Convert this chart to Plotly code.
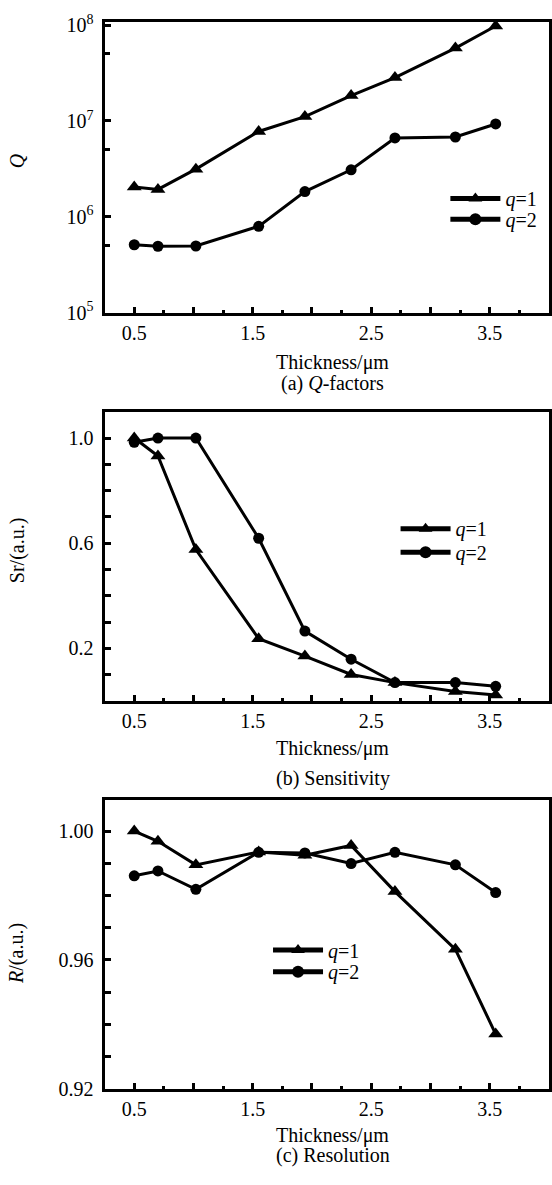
import plotly.graph_objects as go

# ---------------- data ----------------
thickness = [0.5, 0.7, 1.02, 1.55, 1.94, 2.33, 2.7, 3.21, 3.55]

q_factor_q1 = [2.04e6, 1.93e6, 3.14e6, 7.76e6, 1.11e7, 1.84e7, 2.84e7, 5.76e7, 9.8e7]
q_factor_q2 = [5.1e5, 4.92e5, 4.95e5, 7.94e5, 1.83e6, 3.09e6, 6.64e6, 6.8e6, 9.3e6]

sens_q1 = [1.0, 0.932, 0.576, 0.237, 0.171, 0.101, 0.070, 0.036, 0.023]
sens_q2 = [0.984, 1.0, 1.0, 0.619, 0.266, 0.159, 0.070, 0.070, 0.056]

res_q1 = [1.000, 0.9968, 0.9895, 0.9935, 0.9925, 0.9955, 0.9812, 0.9633, 0.937]
res_q2 = [0.9861, 0.9876, 0.9819, 0.9934, 0.9932, 0.9899, 0.9934, 0.9895, 0.9809]

x_tickvals = [0.5, 1.0, 1.5, 2.0, 2.5, 3.0, 3.5]
x_ticktext = ["0.5", "", "1.5", "", "2.5", "", "3.5"]
x_minorvals = [0.75, 1.25, 1.75, 2.25, 2.75, 3.25, 3.75]

qa_tickvals = [1e5, 1e6, 1e7, 1e8]
qa_ticktext = ["10<sup>5</sup>", "10<sup>6</sup>", "10<sup>7</sup>", "10<sup>8</sup>"]
qa_minorvals = [5e5, 5e6, 5e7]

sb_tickvals = [0.1, 0.2, 0.3, 0.4, 0.5, 0.6, 0.7, 0.8, 0.9, 1.0]
sb_ticktext = ["", "0.2", "", "", "", "0.6", "", "", "", "1.0"]

rc_tickvals = [0.92, 0.93, 0.94, 0.95, 0.96, 0.97, 0.98, 0.99, 1.00]
rc_ticktext = ["0.92", "", "", "", "0.96", "", "", "", "1.00"]

series_names = ["<i>q</i>=1", "<i>q</i>=2"]

# ---------------- layout helpers ----------------
W, H = 552, 1185
FONT = "Liberation Serif, Times New Roman, serif"


def py(px):  # pixel-from-top -> paper y
    return 1 - px / H


def px_x(px):
    return px / W


fig = go.Figure()

panels = [
    ("", q_factor_q1, q_factor_q2, "legend", "legend2"),
    ("2", sens_q1, sens_q2, "legend3", "legend4"),
    ("3", res_q1, res_q2, "legend5", "legend6"),
]
for suf, d1, d2, leg1, leg2 in panels:
    fig.add_trace(go.Scatter(
        x=thickness, y=d1, mode="lines+markers", name=series_names[0],
        xaxis="x" + suf, yaxis="y" + suf, legend=leg1,
        line=dict(color="black", width=3),
        marker=dict(symbol="triangle-up", size=13, color="black"),
    ))
    fig.add_trace(go.Scatter(
        x=thickness, y=d2, mode="lines+markers", name=series_names[1],
        xaxis="x" + suf, yaxis="y" + suf, legend=leg2,
        line=dict(color="black", width=3),
        marker=dict(symbol="circle", size=11, color="black"),
    ))

tickfont = dict(family=FONT, size=20, color="black")

domains = {
    "": (py(308), py(12)),
    "2": (py(703.5), py(409)),
    "3": (py(1098.3), py(804)),
}
X_LEFT, X_RIGHT = 105, 551

for suf in ["", "2", "3"]:
    fig.update_layout(**{
        "xaxis" + suf: dict(
            domain=[px_x(X_LEFT), px_x(X_RIGHT)], anchor="y" + suf, range=[0.25, 4.0],
            tickmode="array", tickvals=x_tickvals, ticktext=x_ticktext,
            ticks="inside", ticklen=6, tickwidth=2.5, tickcolor="black",
            minor=dict(tickmode="array", tickvals=x_minorvals, ticks="inside",
                       ticklen=3, tickwidth=2.5, tickcolor="black"),
            showline=True, linewidth=3, linecolor="black", mirror=True,
            showgrid=False, zeroline=False, tickfont=tickfont,
            ticklabelstandoff=0,
        )
    })

common_y = dict(ticks="inside", ticklen=6, tickwidth=2.5, tickcolor="black",
                showline=True, linewidth=3, linecolor="black", mirror=True,
                showgrid=False, zeroline=False, tickfont=tickfont,
                ticklabelstandoff=4, tickmode="array")

fig.update_layout(
    yaxis=dict(domain=list(domains[""]), anchor="x", type="log", range=[5, 8.035],
               tickvals=qa_tickvals, ticktext=qa_ticktext,
               minor=dict(tickmode="array", tickvals=qa_minorvals, ticks="inside",
                          ticklen=5, tickwidth=2.5, tickcolor="black"),
               **common_y),
    yaxis2=dict(domain=list(domains["2"]), anchor="x2", range=[0, 1.1],
                tickvals=sb_tickvals, ticktext=sb_ticktext, **common_y),
    yaxis3=dict(domain=list(domains["3"]), anchor="x3", range=[0.92, 1.0097],
                tickvals=rc_tickvals, ticktext=rc_ticktext, **common_y),
)

legfont = dict(family=FONT, size=20, color="black")
legcommon = dict(font=legfont, bgcolor="rgba(0,0,0,0)", borderwidth=0,
                 xanchor="left", yanchor="middle", tracegroupgap=0,
                 itemsizing="constant", itemwidth=50)
# (line start px, y of first item px, y of second item px)
leg_pos = [(453, 192, 213), (403, 528, 552), (275, 957, 979)]
leg_layout = {}
names = ["legend", "legend2", "legend3", "legend4", "legend5", "legend6"]
for i, (lx, y1, y2) in enumerate(leg_pos):
    leg_layout[names[2 * i]] = dict(x=px_x(lx - 6), y=py(y1), **legcommon)
    leg_layout[names[2 * i + 1]] = dict(x=px_x(lx - 6), y=py(y2), **legcommon)
fig.update_layout(**leg_layout)

anns = []
labfont = dict(family=FONT, size=20, color="black")
CX = 334
for ty, cy, cap in [(359, 380, "(a) <i>Q</i>-factors"),
                    (752, 782, "(b) Sensitivity"),
                    (1146, 1166, "(c) Resolution")]:
    anns.append(dict(text="Thickness/μm", x=px_x(CX), y=py(ty), xref="paper", yref="paper",
                     showarrow=False, font=labfont, xanchor="center", yanchor="middle"))
    anns.append(dict(text=cap, x=px_x(CX), y=py(cy), xref="paper", yref="paper",
                     showarrow=False, font=labfont, xanchor="center", yanchor="middle"))
for txt, cy in [("<i>Q</i>", 153), ("Sr/(a.u.)", 550), ("<i>R</i>/(a.u.)", 960)]:
    anns.append(dict(text=txt, x=px_x(17), y=py(cy), xref="paper", yref="paper",
                     showarrow=False, font=labfont, textangle=-90,
                     xanchor="center", yanchor="middle"))

fig.update_layout(
    annotations=anns,
    width=W, height=H,
    margin=dict(l=0, r=0, t=0, b=0),
    paper_bgcolor="white", plot_bgcolor="white",
    showlegend=True,
    font=dict(family=FONT, color="black"),
)

fig.write_html("out.html")
